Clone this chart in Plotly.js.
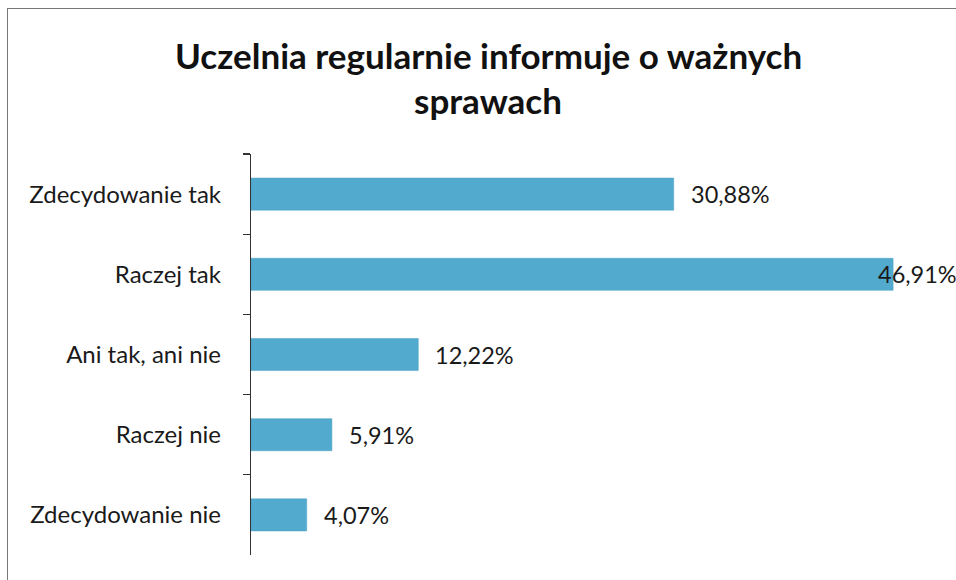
<!DOCTYPE html>
<html>
<head>
<meta charset="utf-8">
<script src="https://cdn.plot.ly/plotly-3.0.1.min.js"></script>
<style>
  html, body { margin: 0; padding: 0; background: #fff; }
  #wrap { position: relative; width: 956px; height: 580px; }
  #chart { width: 956px; height: 580px; }
  #frame { position: absolute; left: 7px; top: 8px; right: 0; bottom: 0;
           border-left: 1.5px solid #777; border-top: 1.5px solid #777; pointer-events: none; }
</style>
</head>
<body>
<div id="wrap">
  <div id="chart"></div>
  <div id="frame"></div>
</div>
<script>
const categories = ["Zdecydowanie tak", "Raczej tak", "Ani tak, ani nie", "Raczej nie", "Zdecydowanie nie"];
const values = [30.88, 46.91, 12.22, 5.91, 4.07];
const labels = ["30,88%", "46,91%", "12,22%", "5,91%", "4,07%"];
const titleLines = ["Uczelnia regularnie informuje o ważnych", "sprawach"];

const FONT = "Lato, 'Open Sans', 'DejaVu Sans', sans-serif";
const maxV = Math.max(...values);

const trace = {
  type: "bar",
  orientation: "h",
  y: categories,
  x: values,
  width: 0.4,
  marker: { color: "#52abcf", line: { color: "#4a9fc2", width: 0.5 } },
  hoverinfo: "skip"
};

const annotations = values.map((v, i) => ({
  x: v, y: categories[i], xref: "x", yref: "y",
  text: labels[i], showarrow: false,
  xanchor: "left",
  xshift: v === maxV ? -17 : 15,
  font: { family: FONT, size: 23.5, color: "#1a1a1a" }
}));

const titleY = [1.247, 1.135];
titleLines.forEach((t, i) => annotations.push({
  x: 0.342, y: titleY[i], xref: "paper", yref: "paper",
  xanchor: "center", yanchor: "middle",
  text: "<b>" + t + "</b>", showarrow: false,
  font: { family: FONT, size: 35, color: "#111" }
}));

const layout = {
  width: 956, height: 580,
  margin: { l: 251, r: 11, t: 154, b: 25 },
  paper_bgcolor: "#fff", plot_bgcolor: "#fff",
  showlegend: false,
  xaxis: {
    range: [0, 50.7], visible: false, fixedrange: true
  },
  yaxis: {
    autorange: "reversed",
    type: "category",
    showline: true, linecolor: "#333", linewidth: 1.2,
    ticks: "outside", ticklen: 7, tickcolor: "#333", tickwidth: 1.2,
    tickson: "boundaries",
    ticklabelstandoff: 24,
    showgrid: false, zeroline: false,
    tickfont: { family: FONT, size: 24, color: "#1a1a1a" }
  },
  annotations: annotations
};

Plotly.newPlot("chart", [trace], layout, { displayModeBar: false, staticPlot: true });
</script>
</body>
</html>
